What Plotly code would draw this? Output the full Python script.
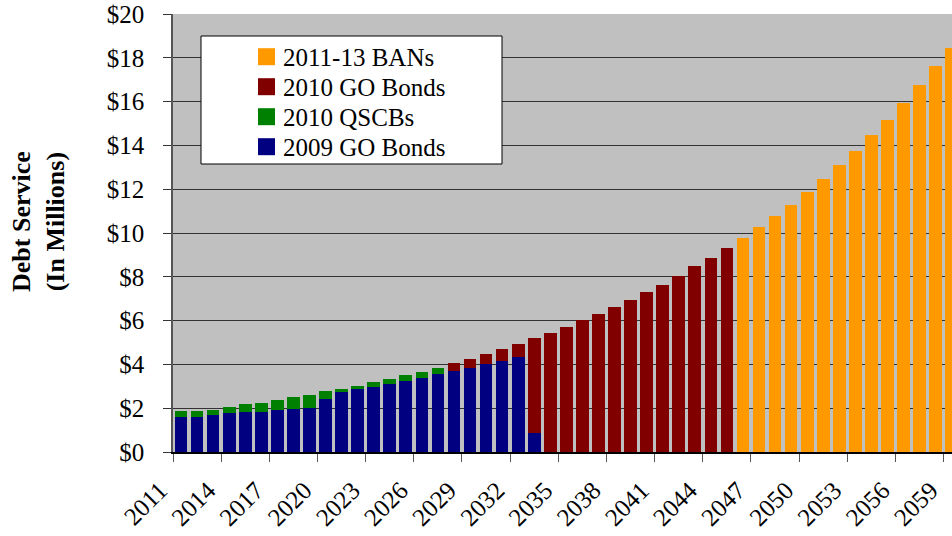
import plotly.graph_objects as go

years = [str(y) for y in range(2011, 2060)]

go_2009 = [1.61, 1.61, 1.70, 1.79, 1.84, 1.84, 1.93, 1.98, 2.02, 2.43,
           2.75, 2.89, 2.98, 3.12, 3.26, 3.39, 3.58, 3.71, 3.85, 4.03,
           4.17, 4.35, 0.88] + [0] * 26
qscb_2010 = [0.28, 0.28, 0.23, 0.28, 0.37, 0.41, 0.46, 0.55, 0.60, 0.37,
             0.14, 0.13, 0.22, 0.22, 0.27, 0.28, 0.27] + [0] * 32
go_2010 = [0] * 17 + [0.37, 0.41, 0.46, 0.55, 0.59, 4.34,
                      5.45, 5.72, 6.04, 6.31, 6.64, 6.96, 7.32, 7.64, 8.05,
                      8.51, 8.87, 9.33] + [0] * 14
bans = [0] * 35 + [9.79, 10.29, 10.79, 11.29, 11.89, 12.48, 13.12, 13.76,
                   14.49, 15.17, 15.95, 16.77, 17.64, 18.46]

series = [
    ("2009 GO Bonds", go_2009, "#000080"),
    ("2010 QSCBs", qscb_2010, "#008000"),
    ("2010 GO Bonds", go_2010, "#800000"),
    ("2011-13 BANs", bans, "#FF9900"),
]

FONT = "Liberation Serif, Times New Roman, serif"

fig = go.Figure()
for name, vals, col in series:
    fig.add_trace(go.Bar(x=years, y=vals, name=name, marker_color=col,
                         marker_line_width=0, showlegend=False))

L, R, T, B = 173, 0, 14, 84
W, H = 952, 536
pw, ph = W - L - R, H - T - B

def px_x(px):
    return (px - L) / pw

def px_y(py):
    return (H - B - py) / ph

# legend box (drawn as shapes + text, top entry = last series)
shapes = [dict(type="rect", xref="paper", yref="paper",
               x0=px_x(201), x1=px_x(502), y0=px_y(164), y1=px_y(36),
               fillcolor="white", line=dict(color="black", width=1),
               layer="above")]
annotations = []
for i, (name, vals, col) in enumerate(reversed(series)):
    cy = 56.7 + 30 * i
    shapes.append(dict(type="rect", xref="paper", yref="paper",
                       x0=px_x(258), x1=px_x(275),
                       y0=px_y(cy + 8.5), y1=px_y(cy - 8.5),
                       fillcolor=col, line=dict(width=0), layer="above"))
    annotations.append(dict(text=name, xref="paper", yref="paper",
                            x=px_x(281), y=px_y(cy + 1), xanchor="left",
                            yanchor="middle", showarrow=False,
                            font=dict(family=FONT, size=25, color="black")))

annotations.append(dict(
    text="<b>Debt Service</b><br><b>(In Millions)</b>",
    xref="paper", yref="paper", x=px_x(38), y=px_y(222),
    xanchor="center", yanchor="middle", textangle=-90, showarrow=False,
    font=dict(family=FONT, size=26, color="black"),
))

fig.update_layout(
    width=W, height=H,
    margin=dict(l=L, r=R, t=T, b=B, pad=0),
    paper_bgcolor="white",
    plot_bgcolor="#C0C0C0",
    barmode="stack",
    bargap=0.21,
    font=dict(family=FONT, size=25, color="black"),
    showlegend=False,
    shapes=shapes,
    annotations=annotations,
)

fig.update_xaxes(
    type="category", range=[-0.5, 48.02],
    tickmode="linear", tick0=0, dtick=3,
    tickson="boundaries", ticks="outside", ticklen=8, tickcolor="#555",
    tickangle=-45, showgrid=False,
    ticklabelshift=-21, ticklabelstandoff=12,
    showline=True, linecolor="black", linewidth=1.5,
    tickfont=dict(family=FONT, size=25, color="black"),
)
fig.update_yaxes(
    range=[0, 20], dtick=2, tickprefix="$",
    ticks="outside", ticklen=8, tickcolor="#333",
    ticklabelstandoff=14,
    showgrid=True, gridcolor="#333", gridwidth=1,
    showline=True, linecolor="#555", linewidth=1.5,
    zeroline=False,
    tickfont=dict(family=FONT, size=25, color="black"),
)

fig.write_html("out.html")
